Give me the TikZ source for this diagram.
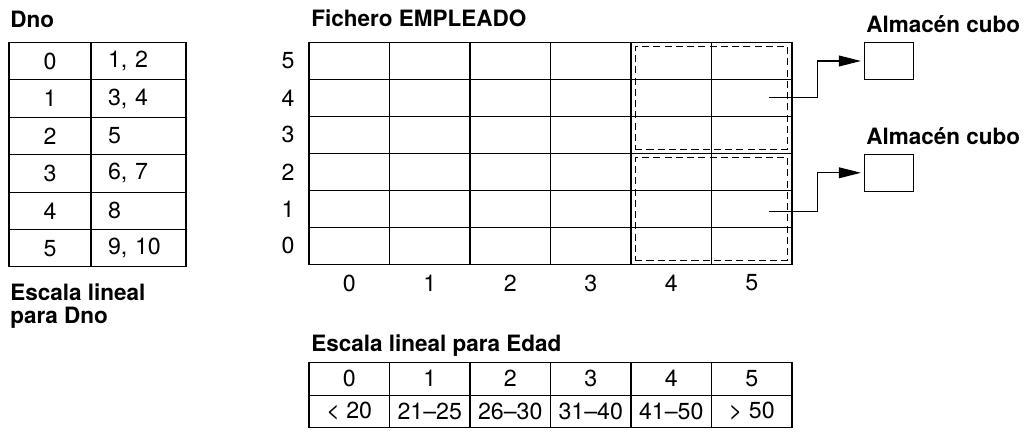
\documentclass[tikz,border=0pt]{standalone}
\usepackage{fontspec}
\setmainfont{TeX Gyre Heros}
\usetikzlibrary{arrows.meta,positioning,calc,fit}

\newcommand{\tabfont}{\fontsize{16.5}{19}\selectfont}
\newcommand{\headfont}{\fontsize{16}{16.6}\selectfont\bfseries}

\begin{document}
\begin{tikzpicture}[
    cell/.style={draw, line width=0.8pt, inner sep=0pt, font=\tabfont},
    gcell/.style={cell, minimum width=2.0125cm, minimum height=0.925cm},
    ecell/.style={cell, minimum width=2.0125cm, minimum height=0.82cm},
    head/.style={font=\headfont, inner sep=0pt, anchor=base west},
    lbl/.style={font=\tabfont, inner sep=0pt},
    bucket/.style={draw, line width=0.8pt, minimum width=1.225cm,
      minimum height=0.935cm},
    dashbox/.style={draw, dash pattern=on 5pt off 3pt, line width=0.6pt,
      inner sep=-0.12cm},
    arr/.style={-{Triangle[length=0.55cm, width=0.27cm]}, line width=0.8pt,
      shorten >=2pt},
  ]
  \useasboundingbox (0,0) rectangle (25.65,10.8);

  % Escala lineal para Dno
  \node[head] (dno) at (0.25, 10.1) {Dno};
  \foreach \dn/\bk [count=\i from 0] in {0/{1, 2}, 1/{3, 4}, 2/5, 3/{6, 7}, 4/8, 5/{9, 10}} {
    \node[cell, minimum width=2.05cm, minimum height=0.935cm] (k\i)
      at (1.25, {9.7375-(\i+0.5)*0.935}) {\dn};
    \node[cell, minimum height=0.935cm, text width=1.525cm, inner xsep=0.425cm,
      align=left] (d\i) at (3.4625, {9.7375-(\i+0.5)*0.935}) {\bk};
  }
  \node[head, anchor=north west, align=left] (escd) at (0.25, 3.725)
    {Escala lineal\\para Dno};

  % Fichero EMPLEADO
  \node[head] (fich) at (7.775, 10.13) {Fichero EMPLEADO};
  \foreach \c in {0,...,5}
    \foreach \r in {0,...,5}
      \node[gcell] (g-\c-\r) at ({7.725+(\c+0.5)*2.0125}, {4.1925+(\r+0.5)*0.925}) {};
  \foreach \r in {0,...,5}
    \node[lbl] (row\r) at (7.2, {4.1925+(\r+0.5)*0.925}) {\r};
  \foreach \c in {0,...,5}
    \node[lbl] (col\c) at ({7.725+(\c+0.5)*2.0125}, 3.725) {\c};

  % Cubos
  \node[dashbox, fit=(g-4-5)(g-5-3)] (u1) {};
  \node[dashbox, fit=(g-4-2)(g-5-0)] (u2) {};
  \node[head] (alm1) at (21.65, 9.975) {Almacén cubo};
  \node[head] (alm2) at (21.65, 7.175) {Almacén cubo};
  \node[bucket] (b1) at (22.22, 9.275) {};
  \node[bucket] (b2) at (22.22, 6.48) {};
  \draw[arr] ($(g-5-4)+(0.42,0)$) -- ++(1.22,0) |- (b1.west);
  \draw[arr] ($(g-5-1)+(0.42,-0.07)$) -- ++(1.22,0) |- (b2.west);

  % Escala lineal para Edad
  \node[head] (esce) at (7.775, 2.0075) {Escala lineal para Edad};
  \foreach \ed/\rg [count=\i from 0] in {0/{< 20}, 1/21--25, 2/26--30, 3/31--40, 4/41--50, 5/{> 50}} {
    \node[ecell] (e\i) at ({7.725+(\i+0.5)*2.0125}, 1.3325) {\ed};
    \node[ecell] (f\i) at ({7.725+(\i+0.5)*2.0125}, 0.5125) {\rg};
  }
\end{tikzpicture}
\end{document}
